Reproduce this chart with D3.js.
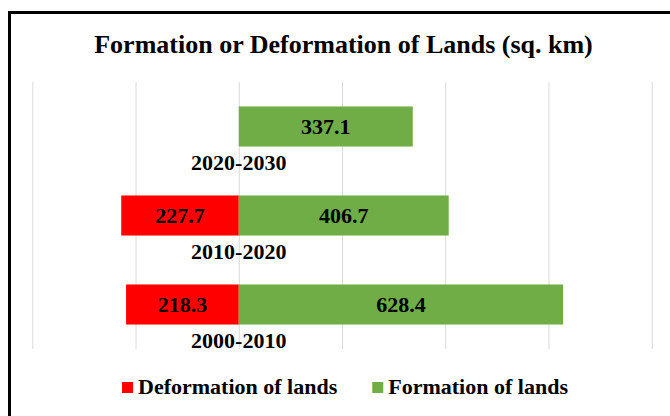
<!DOCTYPE html>
<html>
<head>
<meta charset="utf-8">
<script src="https://cdn.jsdelivr.net/npm/d3@7"></script>
<style>
  html, body { margin: 0; padding: 0; background: #fff; }
  svg { display: block; }
  text { font-family: "Liberation Serif", "Times New Roman", serif; font-weight: bold; fill: #000; }
</style>
</head>
<body>
<svg id="chart" width="670" height="416"></svg>
<script>
const periods = ["2020-2030", "2010-2020", "2000-2010"];
const deformation = [0, 227.7, 218.3];
const formation = [337.1, 406.7, 628.4];
const gridTicks = [-400, -200, 0, 200, 400, 600, 800];
const seriesNames = ["Deformation of lands", "Formation of lands"];
const seriesColors = ["#ff0000", "#70ad47"];

const width = 670, height = 416;
const svg = d3.select("#chart");

// outer frame (runs off the right and bottom edges like the source)
svg.append("rect")
  .attr("x", 9.5).attr("y", 12.5)
  .attr("width", 700).attr("height", 450)
  .attr("fill", "none").attr("stroke", "#000").attr("stroke-width", 3);

svg.append("text")
  .attr("x", 343.5).attr("y", 53)
  .attr("text-anchor", "middle")
  .style("font-size", "26px")
  .text("Formation or Deformation of Lands (sq. km)");

const plotTop = 82, plotBottom = 349;

const x = d3.scaleLinear().domain([-400, 800]).range([32.3, 651.7]);
const y = d3.scaleBand().domain(periods).range([plotTop, plotBottom])
  .paddingInner(0.55).paddingOuter(0.275);

svg.append("g")
  .attr("transform", `translate(0,${plotBottom})`)
  .call(d3.axisBottom(x).tickValues(gridTicks).tickSize(-(plotBottom - plotTop)).tickFormat(""))
  .call((g) => g.select(".domain").remove())
  .call((g) => g.selectAll(".tick line").attr("stroke", "#d9d9d9").attr("stroke-width", 1));

const rows = periods.map((p, i) => ({ period: p, def: deformation[i], form: formation[i] }));

// deformation goes left of zero
svg.append("g")
  .selectAll("rect")
  .data(rows.filter((d) => d.def > 0))
  .join("rect")
  .attr("x", (d) => x(-d.def))
  .attr("y", (d) => y(d.period))
  .attr("width", (d) => x(0) - x(-d.def))
  .attr("height", y.bandwidth())
  .attr("fill", seriesColors[0]);

svg.append("g")
  .selectAll("rect")
  .data(rows)
  .join("rect")
  .attr("x", x(0))
  .attr("y", (d) => y(d.period))
  .attr("width", (d) => x(d.form) - x(0))
  .attr("height", y.bandwidth())
  .attr("fill", seriesColors[1]);

// value labels
svg.append("g")
  .selectAll("text")
  .data(rows.filter((d) => d.def > 0))
  .join("text")
  .attr("x", (d) => (x(-d.def) + x(0)) / 2)
  .attr("y", (d) => y(d.period) + y.bandwidth() / 2 + 7)
  .attr("text-anchor", "middle")
  .style("font-size", "22px")
  .text((d) => d.def.toFixed(1));

svg.append("g")
  .selectAll("text")
  .data(rows)
  .join("text")
  .attr("x", (d) => (x(d.form) + x(0)) / 2)
  .attr("y", (d) => y(d.period) + y.bandwidth() / 2 + 7)
  .attr("text-anchor", "middle")
  .style("font-size", "22px")
  .text((d) => d.form.toFixed(1));

// category labels sit under each bar at the zero line
svg.append("g")
  .selectAll("text")
  .data(periods)
  .join("text")
  .attr("x", x(0))
  .attr("y", (d) => y(d) + y.bandwidth() + 23)
  .attr("text-anchor", "middle")
  .style("font-size", "22px")
  .text((d) => d);

// legend
const legend = svg.append("g");
const items = legend.selectAll("g")
  .data(seriesNames)
  .join("g");
items.append("rect")
  .attr("width", 11).attr("height", 11)
  .attr("y", -12)
  .attr("fill", (d, i) => seriesColors[i]);
items.append("text")
  .attr("x", 16)
  .style("font-size", "22px")
  .text((d) => d);

let cursor = 0;
const widths = [];
items.each(function () {
  widths.push(16 + this.querySelector("text").getComputedTextLength());
});
const gap = 35;
const total = d3.sum(widths) + gap * (widths.length - 1);
const startX = 345 - total / 2;
items.attr("transform", (d, i) => {
  const tx = startX + cursor;
  cursor += widths[i] + gap;
  return `translate(${tx},394)`;
});
</script>
</body>
</html>
